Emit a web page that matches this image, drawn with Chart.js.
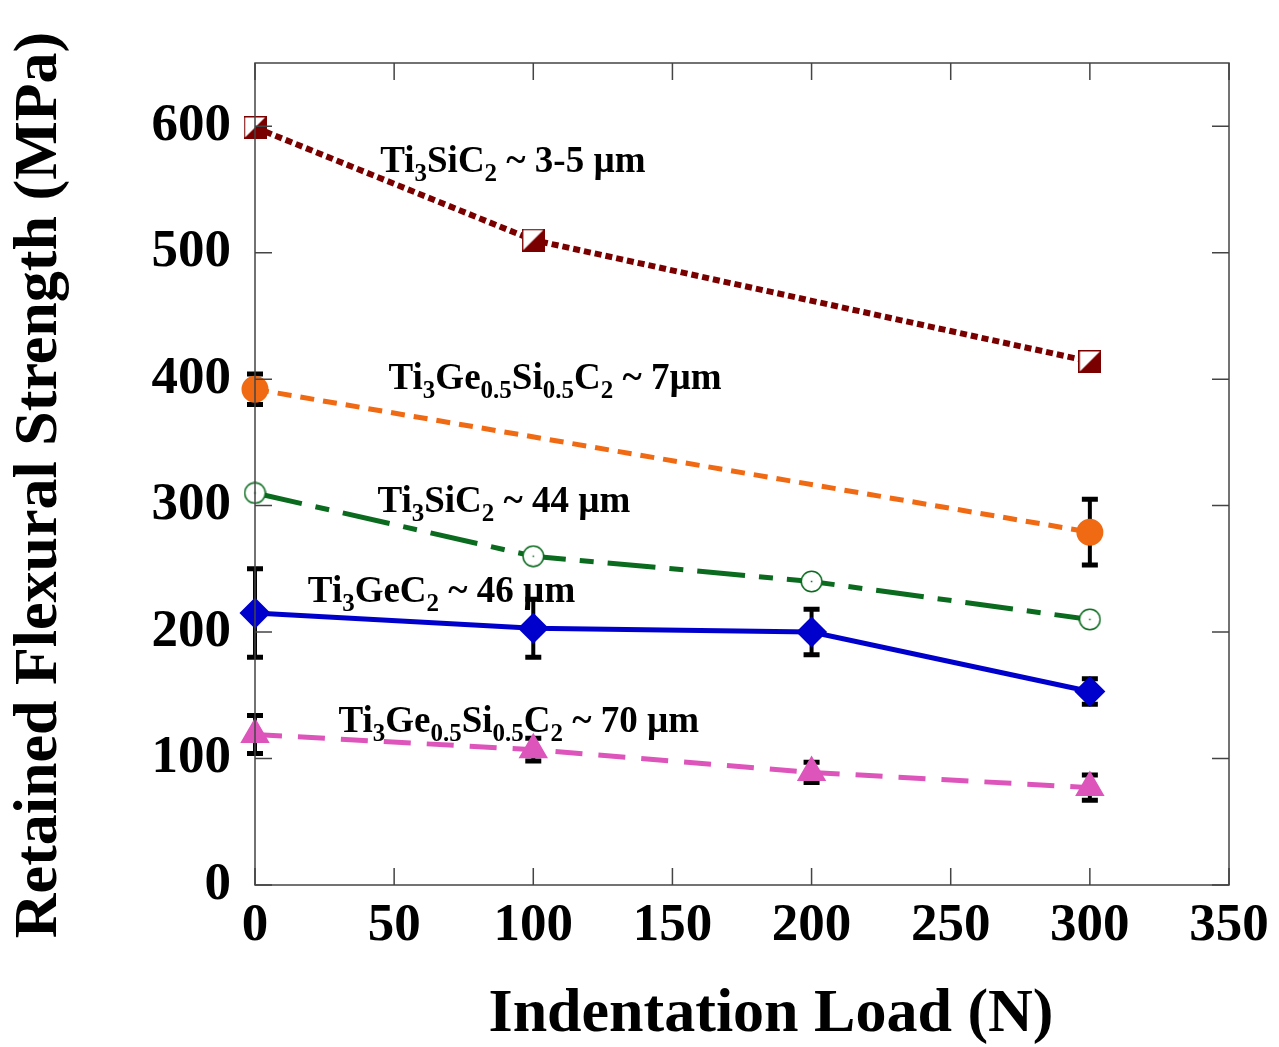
<!DOCTYPE html>
<html>
<head>
<meta charset="utf-8">
<title>Retained Flexural Strength vs Indentation Load</title>
<script src="https://cdn.jsdelivr.net/npm/chart.js@4.4.1/dist/chart.umd.min.js"></script>
<style>
  body { margin: 0; background: #fff; }
  canvas { display: block; }
</style>
</head>
<body>
<canvas id="chart" width="1279" height="1047"></canvas>
<script>
// indentation loads (N) for each series
const loadsAll = [0, 100, 200, 300];
const loadsFine = [0, 100, 300];
const loadsGeSi7 = [0, 300];

// retained flexural strength (MPa) and error half-widths
const tscFine = [599, 510, 414];
const geSi7 = [392, 279];
const geSi7Err = [12, 26];
const tsc44 = [310, 260, 240, 210];
const tgc46 = [215, 203, 200, 153];
const tgc46Err = [35, 23, 18, 10];
const geSi70 = [119, 107, 89, 77];
const geSi70Err = [15, 9, 8, 10];

const xTicks = [0, 50, 100, 150, 200, 250, 300, 350];
const yTicks = [0, 100, 200, 300, 400, 500, 600];

// series captions, _{..} marks a subscript
const captions = [
  'Ti_{3}SiC_{2} ~ 3-5 µm',
  'Ti_{3}Ge_{0.5}Si_{0.5}C_{2} ~ 7µm',
  'Ti_{3}SiC_{2} ~ 44 µm',
  'Ti_{3}GeC_{2} ~ 46 µm',
  'Ti_{3}Ge_{0.5}Si_{0.5}C_{2} ~ 70 µm'
];

const pts = (xs, ys) => xs.map((x, i) => ({ x: x, y: ys[i] }));

function halfSquare(size, color) {
  const c = document.createElement('canvas');
  c.width = c.height = size;
  const g = c.getContext('2d');
  g.fillStyle = '#fff';
  g.fillRect(0, 0, size, size);
  g.fillStyle = color;
  g.beginPath();
  g.moveTo(size, 0); g.lineTo(size, size); g.lineTo(0, size);
  g.closePath(); g.fill();
  g.strokeStyle = color; g.lineWidth = 1.5;
  g.strokeRect(0.75, 0.75, size - 1.5, size - 1.5);
  return c;
}

function ringDot(size, color) {
  const c = document.createElement('canvas');
  c.width = c.height = size;
  const g = c.getContext('2d');
  g.beginPath();
  g.arc(size / 2, size / 2, size / 2 - 1.2, 0, Math.PI * 2);
  g.fillStyle = '#fff'; g.fill();
  g.strokeStyle = color; g.lineWidth = 1.5; g.stroke();
  g.fillStyle = color;
  g.fillRect(size / 2 - 0.75, size / 2 - 0.75, 1.5, 1.5);
  return c;
}

const serif = '"Liberation Serif", "Times New Roman", serif';

// error bars behind the markers
const errorBars = {
  id: 'errorBars',
  beforeDatasetsDraw(chart) {
    const ctx = chart.ctx, xs = chart.scales.x, ys = chart.scales.y;
    ctx.save();
    ctx.strokeStyle = '#000';
    chart.data.datasets.forEach(ds => {
      if (!ds.errors) return;
      ds.data.forEach((p, i) => {
        const e = ds.errors[i];
        const px = xs.getPixelForValue(p.x);
        const top = ys.getPixelForValue(p.y + e);
        const bot = ys.getPixelForValue(p.y - e);
        ctx.lineWidth = 4;
        ctx.beginPath(); ctx.moveTo(px, top); ctx.lineTo(px, bot); ctx.stroke();
        ctx.lineWidth = 5;
        ctx.beginPath();
        ctx.moveTo(px - 8, top); ctx.lineTo(px + 8, top);
        ctx.moveTo(px - 8, bot); ctx.lineTo(px + 8, bot);
        ctx.stroke();
      });
    });
    ctx.restore();
  }
};

// frame, inward ticks, axis titles and captions
const frame = {
  id: 'frame',
  afterDatasetsDraw(chart) {
    const ctx = chart.ctx, a = chart.chartArea;
    const xs = chart.scales.x, ys = chart.scales.y;
    ctx.save();
    ctx.strokeStyle = '#444';
    ctx.lineWidth = 1.5;
    ctx.strokeRect(a.left, a.top, a.right - a.left, a.bottom - a.top);
    ctx.beginPath();
    xTicks.forEach(v => {
      const px = xs.getPixelForValue(v);
      ctx.moveTo(px, a.bottom); ctx.lineTo(px, a.bottom - 17);
      ctx.moveTo(px, a.top); ctx.lineTo(px, a.top + 17);
    });
    yTicks.forEach(v => {
      const py = ys.getPixelForValue(v);
      ctx.moveTo(a.left, py); ctx.lineTo(a.left + 17, py);
      ctx.moveTo(a.right, py); ctx.lineTo(a.right - 17, py);
    });
    ctx.stroke();

    // captions anchored in data units
    const anchors = [[45, 564], [48, 392], [44, 295], [19, 224], [30, 121]];
    ctx.fillStyle = '#000';
    ctx.textBaseline = 'alphabetic';
    ctx.textAlign = 'left';
    captions.forEach((txt, k) => {
      let px = xs.getPixelForValue(anchors[k][0]);
      const py = ys.getPixelForValue(anchors[k][1]);
      txt.split(/_\{([^}]*)\}/).forEach((part, j) => {
        if (!part) return;
        const sub = j % 2 === 1;
        ctx.font = 'bold ' + (sub ? 25 : 37) + 'px ' + serif;
        ctx.fillText(part, px, sub ? py + 9 : py);
        px += ctx.measureText(part).width;
      });
    });

    // axis titles
    ctx.font = 'bold 62px ' + serif;
    ctx.textAlign = 'center';
    ctx.textBaseline = 'middle';
    ctx.fillText('Indentation Load (N)', 771, 1015);
    ctx.translate(40, 485);
    ctx.rotate(-Math.PI / 2);
    ctx.fillText('Retained Flexural Strength (MPa)', 0, 0);
    ctx.restore();
  }
};

const common = { clip: false, fill: false, borderWidth: 5, borderCapStyle: 'butt', tension: 0 };

new Chart(document.getElementById('chart'), {
  type: 'line',
  data: {
    datasets: [
      Object.assign({}, common, {
        data: pts(loadsFine, tscFine),
        borderColor: '#7a0000', borderDash: [7, 4], borderWidth: 6,
        pointStyle: halfSquare(23, '#7a0000')
      }),
      Object.assign({}, common, {
        data: pts(loadsGeSi7, geSi7), errors: geSi7Err,
        borderColor: '#f06a14', borderDash: [14, 9],
        pointStyle: 'circle', pointRadius: 11,
        pointBackgroundColor: '#f06a14', pointBorderColor: '#f06a14'
      }),
      Object.assign({}, common, {
        data: pts(loadsAll, tsc44),
        borderColor: '#0a6b1e', borderDash: [48, 14, 14, 14],
        pointStyle: ringDot(23, '#0a6b1e')
      }),
      Object.assign({}, common, {
        data: pts(loadsAll, tgc46), errors: tgc46Err,
        borderColor: '#0000cc',
        pointStyle: 'rectRot', pointRadius: 12,
        pointBackgroundColor: '#0000cc', pointBorderColor: '#0000cc'
      }),
      Object.assign({}, common, {
        data: pts(loadsAll, geSi70), errors: geSi70Err,
        borderColor: '#dd55bb', borderDash: [27, 16],
        pointStyle: 'triangle', pointRadius: 12,
        pointBackgroundColor: '#dd55bb', pointBorderColor: '#dd55bb'
      })
    ]
  },
  options: {
    responsive: false,
    animation: false,
    layout: { padding: { top: 63, right: 50, left: 0, bottom: 0 } },
    plugins: { legend: { display: false }, tooltip: { enabled: false } },
    scales: {
      x: {
        type: 'linear', min: 0, max: 350,
        afterBuildTicks: s => { s.ticks = xTicks.map(v => ({ value: v })); },
        afterFit: s => { s.height = 162; },
        grid: { display: false, drawTicks: false },
        border: { display: false },
        ticks: { padding: 10, color: '#000', font: { family: serif, size: 53, weight: 'bold' } }
      },
      y: {
        type: 'linear', min: 0, max: 650,
        afterBuildTicks: s => { s.ticks = yTicks.map(v => ({ value: v })); },
        afterFit: s => { s.width = 255; },
        grid: { display: false, drawTicks: false },
        border: { display: false },
        ticks: { padding: 24, color: '#000', font: { family: serif, size: 53, weight: 'bold' } }
      }
    }
  },
  plugins: [errorBars, frame]
});
</script>
</body>
</html>
